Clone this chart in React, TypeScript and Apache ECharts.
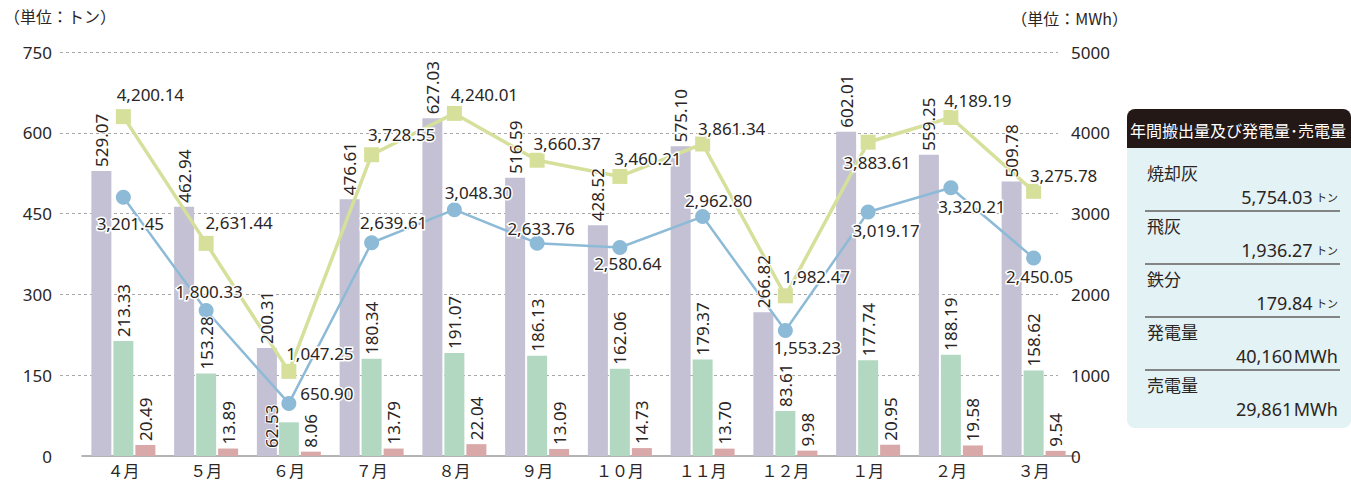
import React, { useEffect, useRef } from 'react';
import * as echarts from 'echarts';

const months = ['４月', '５月', '６月', '７月', '８月', '９月', '１０月', '１１月', '１２月', '１月', '２月', '３月'];
// 焼却灰 (トン)
const ashData = [529.07, 462.94, 200.31, 476.61, 627.03, 516.59, 428.52, 575.1, 266.82, 602.01, 559.25, 509.78];
// 飛灰 (トン)
const flyAshData = [213.33, 153.28, 62.53, 180.34, 191.07, 186.13, 162.06, 179.37, 83.61, 177.74, 188.19, 158.62];
// 鉄分 (トン)
const ironData = [20.49, 13.89, 8.06, 13.79, 22.04, 13.09, 14.73, 13.7, 9.98, 20.95, 19.58, 9.54];
// 発電量 (MWh)
const generationData = [4200.14, 2631.44, 1047.25, 3728.55, 4240.01, 3660.37, 3460.21, 3861.34, 1982.47, 3883.61, 4189.19, 3275.78];
// 売電量 (MWh)
const salesData = [3201.45, 1800.33, 650.9, 2639.61, 3048.3, 2633.76, 2580.64, 2962.8, 1553.23, 3019.17, 3320.21, 2450.05];

const leftAxis = { min: 0, max: 750, interval: 150 };
const rightAxis = { min: 0, max: 5000, interval: 1000 };

const summaryNames = ['焼却灰', '飛灰', '鉄分', '発電量', '売電量'];
const summaryValues = ['5,754.03', '1,936.27', '179.84', '40,160', '29,861'];
const summaryUnits = ['トン', 'トン', 'トン', 'MWh', 'MWh'];

// label placement (pixels, relative to point)
const generationLabelOffsets = [[27, -22], [33, -21], [31, -18], [30, -20], [30, -19], [30, -17], [28, -18], [29, -16], [31, -19], [9, 20], [27, -17], [30, -16]];
const salesLabelOffsets = [[7, 26], [3, -19], [38, -10], [22, -20], [24, -17], [4, -15], [8, 16], [16, -16], [22, 17], [18, 18], [21, 19], [6, 18]];

const TXT = '#2b2523';
const NUM_FONT = "'Noto Sans', 'Noto Sans CJK JP', sans-serif";
const JP_FONT = "'Noto Sans CJK JP', 'Noto Sans', sans-serif";
const BAR_COLORS = ['#c3c1d3', '#b2d8c2', '#d9a9aa'];

const fmtLine = (v: number) => v.toLocaleString('en-US', { minimumFractionDigits: 2, maximumFractionDigits: 2 });

export default function App() {
  const ref = useRef<HTMLDivElement>(null);
  useEffect(() => {
    if (!ref.current) return;
    const chart = echarts.init(ref.current, undefined, { renderer: 'svg' });

    const barLabel = {
      show: true,
      position: 'top',
      rotate: 90,
      align: 'left',
      verticalAlign: 'middle',
      distance: 4,
      fontSize: 17,
      fontFamily: NUM_FONT,
      color: TXT,
      textBorderColor: '#fff',
      textBorderWidth: 2,
      formatter: (p: any) => Number(p.value).toFixed(2),
    };
    const lineLabel = {
      show: true,
      position: 'inside',
      align: 'center',
      verticalAlign: 'middle',
      fontSize: 17,
      fontFamily: NUM_FONT,
      color: TXT,
      textBorderColor: '#fff',
      textBorderWidth: 3,
      formatter: (p: any) => fmtLine(Number(p.value)),
    };

    const panelX = 1127;
    const panelW = 224;
    const graphics: any[] = [
      { type: 'text', left: 4, top: 8, style: { text: '（単位：トン）', fontSize: 16, fontFamily: JP_FONT, fill: TXT } },
      { type: 'text', x: 1128, y: 18, style: { text: '（単位：MWh）', fontSize: 16, fontFamily: JP_FONT, fill: TXT, align: 'right', verticalAlign: 'middle' } },
      { type: 'rect', shape: { x: panelX, y: 109, width: panelW, height: 40, r: [8, 8, 0, 0] }, style: { fill: '#231815' } },
      { type: 'rect', shape: { x: panelX, y: 148, width: panelW, height: 280, r: [0, 0, 8, 8] }, style: { fill: '#e3f2f5' } },
      { type: 'text', x: panelX + panelW / 2 - 1, y: 130, style: { text: '年間搬出量及び発電量･売電量', fontSize: 16, fontFamily: JP_FONT, fill: '#ffffff', align: 'center', verticalAlign: 'middle' } },
    ];
    summaryNames.forEach((name, i) => {
      const base = 172 + i * 53;
      graphics.push({ type: 'text', x: 1147, y: base, style: { text: name, fontSize: 17, fontFamily: JP_FONT, fill: TXT, verticalAlign: 'middle' } });
      const isTon = summaryUnits[i] === 'トン';
      graphics.push({
        type: 'text', x: 1338, y: base + 25,
        style: {
          text: isTon ? `{n|${summaryValues[i]}} {u|${summaryUnits[i]}}` : `{n|${summaryValues[i]}}{s| }{m|${summaryUnits[i]}}`,
          align: 'right', verticalAlign: 'middle', fill: TXT,
          rich: {
            n: { fontSize: 18, fontFamily: NUM_FONT, fill: TXT },
            u: { fontSize: 11, fontFamily: JP_FONT, fill: TXT },
            s: { fontSize: 6, fontFamily: NUM_FONT, fill: TXT },
            m: { fontSize: 18, fontFamily: NUM_FONT, fill: TXT },
          },
        },
      });
      if (i < summaryNames.length - 1) {
        graphics.push({ type: 'line', shape: { x1: 1145, y1: base + 39, x2: 1340, y2: base + 39 }, style: { stroke: '#231815', lineWidth: 1 } });
      }
    });

    const barSets = [
      { name: '焼却灰', data: ashData },
      { name: '飛灰', data: flyAshData },
      { name: '鉄分', data: ironData },
    ];

    const barSeries: any[] = barSets.map((s, k) => ({
      name: s.name, type: 'bar', xAxisIndex: 0, yAxisIndex: 0, data: s.data,
      barWidth: 20, barGap: '10%', itemStyle: { color: BAR_COLORS[k] }, z: 2,
    }));
    // transparent twins carrying the labels so they sit above the lines
    const labelSeries: any[] = barSets.map((s, k) => ({
      name: s.name + '_label', type: 'bar', xAxisIndex: 2, yAxisIndex: 0,
      data: k === 1
        ? s.data.map((v, i) => (i === 2 ? { value: v, label: { position: 'insideBottom', offset: [0, -17], distance: 8 } } : v))
        : s.data,
      barWidth: 20, barGap: '10%', itemStyle: { color: 'rgba(0,0,0,0)' }, silent: true, z: 10,
      label: barLabel,
    }));

    chart.setOption({
      animation: false,
      backgroundColor: '#ffffff',
      textStyle: { fontFamily: NUM_FONT },
      grid: [
        { left: 82, right: 276, top: 52, bottom: 26 },
        { left: 60, right: 293, top: 52, bottom: 26 },
      ],
      xAxis: [
        {
          type: 'category', gridIndex: 0, data: months,
          axisLine: { lineStyle: { color: '#9a9a9a', width: 1.5 } },
          axisTick: { show: false },
          axisLabel: { fontSize: 16, lineHeight: 18, fontFamily: JP_FONT, color: TXT, margin: 5 },
        },
        { type: 'value', gridIndex: 1, min: 0, max: 1, show: false },
        { type: 'category', gridIndex: 0, data: months, show: false },
      ],
      yAxis: [
        { type: 'value', gridIndex: 0, ...leftAxis, show: false },
        { type: 'value', gridIndex: 0, ...rightAxis, show: false, position: 'right' },
        {
          type: 'value', gridIndex: 1, ...leftAxis, position: 'left',
          axisLine: { show: false }, axisTick: { show: false },
          axisLabel: { fontSize: 17, fontFamily: NUM_FONT, color: TXT, margin: 8 },
          splitLine: { show: true, showMinLine: false, lineStyle: { color: '#a8a8a8', type: [3, 3], width: 1 } },
        },
        {
          type: 'value', gridIndex: 1, ...rightAxis, position: 'right',
          axisLine: { show: false }, axisTick: { show: false },
          axisLabel: { fontSize: 17, fontFamily: NUM_FONT, color: TXT, margin: 13, formatter: (v: number) => String(v) },
          splitLine: { show: false },
        },
      ],
      graphic: graphics,
      series: [
        { type: 'line', xAxisIndex: 1, yAxisIndex: 2, data: [], silent: true },
        ...barSeries,
        {
          name: '売電量', type: 'line', xAxisIndex: 0, yAxisIndex: 1, z: 3,
          data: salesData.map((v, i) => ({ value: v, label: { offset: salesLabelOffsets[i] } })),
          symbol: 'circle', symbolSize: 15,
          lineStyle: { color: '#8dbbd7', width: 2.5 },
          itemStyle: { color: '#8dbbd7' },
          label: lineLabel,
        },
        {
          name: '発電量', type: 'line', xAxisIndex: 0, yAxisIndex: 1, z: 3,
          data: generationData.map((v, i) => ({ value: v, label: { offset: generationLabelOffsets[i] } })),
          symbol: 'rect', symbolSize: 15,
          lineStyle: { color: '#d6e09b', width: 3.5 },
          itemStyle: { color: '#d6e09b' },
          label: lineLabel,
        },
        ...labelSeries,
      ],
    });
    return () => chart.dispose();
  }, []);
  return <div ref={ref} style={{ width: 1351, height: 482, position: 'absolute', left: 0, top: 0 }} />;
}
